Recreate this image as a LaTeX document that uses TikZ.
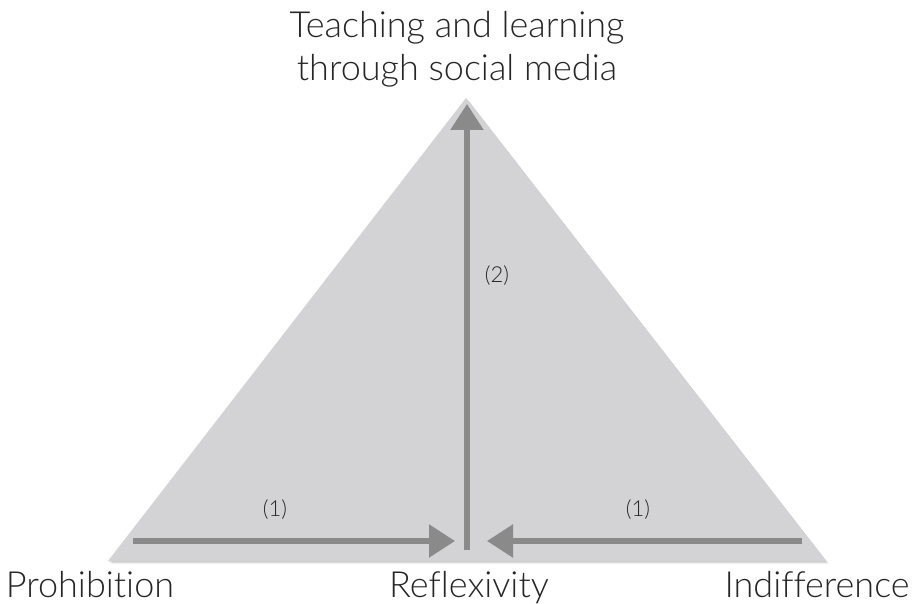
\documentclass[tikz,border=0pt]{standalone}
\usepackage{fontspec}
\setmainfont[Ligatures={NoCommon}]{Lato Light}
\usetikzlibrary{arrows.meta,calc}
\definecolor{trifill}{HTML}{D3D3D6}
\definecolor{arrowgray}{HTML}{8A8A8A}
\tikzset{
  corner/.style={font=\fontsize{36}{40}\selectfont, inner sep=0pt, text=black!85},
  steplabel/.style={font=\fontsize{22}{25}\selectfont, inner sep=0pt, text=black!85},
  flow/.style={draw=arrowgray, line width=5.5pt, line cap=butt,
    -{Triangle[length=26pt, width=32pt]}},
}
\begin{document}
\begin{tikzpicture}[x=1pt, y=-1pt]
  \useasboundingbox (0,0) rectangle (913,604);
  \fill[white] (0,0) rectangle (913,604);

  % corners of the triangle
  \coordinate (apex) at (466,98);
  \coordinate (bl) at (108,561);
  \coordinate (br) at (826,561);

  % soft shadow and body
  \foreach \o/\a in {3/0.05, 2/0.07, 1/0.09}{
    \fill[black, opacity=\a] ($(apex)+(\o,\o)$) -- ($(bl)+(\o,\o)$) -- ($(br)+(\o,\o)$) -- cycle;
  }
  \fill[trifill] (apex) -- (bl) -- (br) -- cycle;

  % arrow ends
  \coordinate (lstart) at (133,541);
  \coordinate (lend) at (455,541);
  \coordinate (rstart) at (802,541);
  \coordinate (rend) at (487,541);
  \coordinate (vstart) at (467,550);
  \coordinate (vend) at (467,104);

  \draw[flow] (lstart) -- (lend);
  \draw[flow] (rstart) -- (rend);
  \draw[flow] (vstart) -- (vend);

  % step numbers
  \node[steplabel] (s1l) at (275,510) {(1)};
  \node[steplabel] (s1r) at (638,510) {(1)};
  \node[steplabel] (s2) at (497,276) {(2)};

  % corner labels
  \node[corner, anchor=base] (prohib) at (90,597) {Prohibition};
  \node[corner, anchor=base] (reflex) at (469,597) {Reflexivity};
  \node[corner, anchor=base] (indiff) at (817,597) {Indifference};
  \node[corner, anchor=base] (top1) at (457,38) {Teaching and learning};
  \node[corner, anchor=base] (top2) at (457,81) {through social media};
\end{tikzpicture}
\end{document}
